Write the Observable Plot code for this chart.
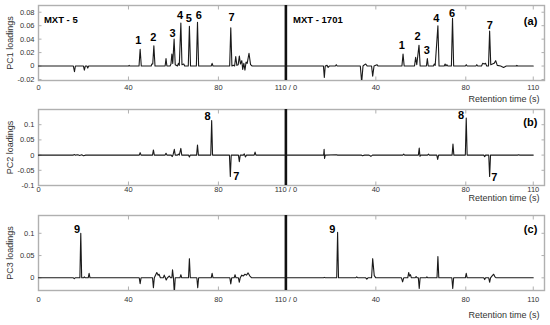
<!DOCTYPE html>
<html><head><meta charset="utf-8">
<script src="https://cdn.jsdelivr.net/npm/d3@7"></script>
<script src="https://cdn.jsdelivr.net/npm/@observablehq/plot@0.6"></script>
<style>
body{margin:0;background:#fff;}
#chart{position:relative;width:550px;height:325px;overflow:hidden;background:#fff;}
#chart svg{position:absolute;left:0;}
</style></head><body><div id="chart"></div>
<script>
// ---- shared axis ----
const xTicks = [0, 40, 80, 110, 150, 190, 220];
const xTickLabels = ["0", "40", "80", "110 / 0", "40", "80", "110"];
const columnNames = ["MXT - 5", "MXT - 1701"];
const columnOffset = [0, 110];        // start of each column on the shared retention axis
const columnSplit = [110];

// ---- PC1 loadings: [retention time (s), loading] ----
const pc1Mxt5 = [[0,0],[15.5,0],[16,-0.0085],[16.4,0],[20,0],[20.4,-0.006],[20.8,0],[21.5,0],[21.9,-0.003],[22.3,0],
 [40,0],[40.3,0.001],[40.6,0],[44.7,0],[45.2,0.025],[45.7,0],[50.1,0],[50.4,0.003],[50.8,0.003],[51.3,0.030],[51.8,0],
 [56.3,0],[56.7,0.011],[57.1,0],[58.5,0],[58.9,0.003],[59.3,0.018],[59.7,0.004],[60.3,0.040],[60.8,0.002],[61.8,0],
 [62.2,0.004],[62.6,0.001],[63.3,0.064],[63.8,0.002],[64.6,0.003],[65,0],[66.6,0],[67.1,0.059],[67.6,0],
 [70.2,0],[70.7,0.065],[71.2,0],[76.8,0],[77.2,0.004],[77.6,0],[85,0],[85.5,0.057],[86,0],[86.6,0.001],[87.2,0],
 [87.7,0.014],[88.2,0.001],[88.8,0.002],[89.3,0.015],[89.8,0.003],[90.4,0.008],[90.8,-0.005],[91.3,0.004],[91.8,-0.006],
 [92.3,0.006],[92.8,0.004],[93.6,0.019],[94.3,0.002],[95,0],[110,0]];
const pc1Mxt1701 = [[0,0],[16.7,0],[17.1,-0.017],[17.5,0],[18.3,0.001],[18.8,-0.002],[19.3,0],[22,0],[22.4,0.002],[22.8,0],
 [33.1,0],[33.7,-0.024],[34.3,0],[35,0.002],[35.5,0.003],[36.2,0],[38.1,0],[38.6,-0.015],[39.2,0],[40.5,0.002],[41,0],
 [51.6,0],[52.1,0.018],[52.6,0],[57.2,0],[57.7,0.013],[58.2,0.002],[59.2,0.031],[59.7,0],[62.5,0],[62.9,0.011],[63.3,0],
 [65.6,0],[66,0.003],[66.4,0.001],[67.6,0.060],[68.1,0],[70.4,0],[70.8,0.003],[71.2,0],[71.6,0.002],[72,0],
 [73.6,0],[74.1,0.071],[74.6,0],[79.8,0],[80.2,0.002],[80.6,0],[84.5,0],[84.9,0.002],[85.3,0],[87,0],[87.5,0.004],
 [88.2,0.003],[88.8,0.004],[89.3,0],[90.1,0],[90.6,0.052],[91.1,0.002],[92.6,0.004],[93.3,0.008],[94,0.001],[95.5,0],
 [96.8,-0.002],[98,0],[102.3,0],[102.7,0.001],[103.1,0],[110,0]];

// ---- PC2 loadings ----
const pc2Mxt5 = [[0,0],[15.5,0],[15.9,0.002],[16.3,0],[17.5,0.001],[18.3,-0.001],[19.2,0.001],[20,-0.002],[21,0],
 [44.8,0],[45.2,0.008],[45.6,0],[50.7,0],[51.1,0.017],[51.5,0],[56.3,0],[56.7,0.006],[57.1,0],
 [59.1,0],[59.4,-0.005],[59.8,0],[60.4,0.019],[60.8,0],[61.8,0],[62.2,0.003],[62.6,0],[63.3,0.022],[63.7,0],
 [66.7,0],[67.1,-0.006],[67.5,0],[70.3,0],[70.7,0.033],[71.1,0],[76.6,0],[77,0.114],[77.4,0],
 [84.9,0],[85.3,-0.070],[85.7,0],[88.9,0],[89.3,-0.022],[89.7,0],[91.1,0],[91.5,0.004],[92,-0.006],[92.5,0],
 [95.9,0],[96.3,0.010],[96.7,0],[110,0]];
const pc2Mxt1701 = [[0,0],[16.8,0],[17.0,0.019],[17.2,-0.011],[17.5,0],[22.5,0.001],[23,0],[33.5,0],[34,-0.002],[35,0],
 [37,0],[37.8,-0.004],[38.5,0],[52,0],[52.4,0.003],[52.8,0],[58.9,0],[59.3,0.023],[59.6,-0.004],[60,0],
 [63,0],[63.4,0.003],[63.8,0],[67.1,0],[67.5,-0.014],[67.9,0],[73.9,0],[74.3,0.036],[74.7,0],
 [79.8,0],[80.2,0.122],[80.6,0],[88,0],[88.4,-0.005],[88.8,0],[90.2,0],[90.6,-0.070],[91,0],
 [103,0],[103.5,0.001],[104,0],[110,0]];

// ---- PC3 loadings ----
const pc3Mxt5 = [[0,0],[15.5,0],[15.9,-0.002],[16.3,0],[18.4,0],[18.8,0.100],[19.2,0],[20,0],[20.4,0.002],[20.8,0],
 [22.1,0],[22.5,0.010],[22.9,0],[44.8,0],[45.2,-0.013],[45.6,0],[50.7,0],[51.1,-0.022],[51.5,0],[52.6,0.012],
 [53.2,0.006],[53.6,0.008],[54.2,0],[55.5,0],[55.9,0.006],[56.4,0],[56.8,-0.005],[57.3,0],[58.2,0.004],[58.7,0],
 [59.3,0],[59.6,0.018],[60,0],[60.4,-0.035],[60.8,0],[62.9,0],[63.3,0.007],[63.7,0],[66.7,0],[67.1,0.043],[67.5,0],
 [70.4,0],[70.8,-0.022],[71.2,0],[76.8,0],[77.2,0.010],[77.6,0],[85.1,0],[85.5,-0.014],[85.9,0],[87,0],[87.4,0.007],
 [87.8,0],[88.9,0],[89.3,-0.010],[89.7,0],[90.4,0.006],[91,0.004],[91.8,0.008],[92.5,0.006],[93.2,0.011],[94,0.004],
 [94.8,0],[110,0]];
const pc3Mxt1701 = [[0,0],[16.7,0],[17.1,0.001],[17.5,0],[22.6,0],[23,0.102],[23.4,0],[31,0],[31.5,0.002],[32,0],
 [35.5,0],[36,-0.003],[36.5,0],[38.1,0],[38.6,0.043],[39.3,0.005],[40,0],[51.4,0],[51.9,-0.009],[52.4,0],
 [54.2,0],[54.6,0.012],[55,0.004],[55.4,0.007],[55.8,0],[57.5,0],[57.9,0.003],[58.3,0],[58.9,0],[59.3,-0.024],[59.7,0],
 [62.3,0],[62.7,0.002],[63.1,0],[67.2,0],[67.6,0.048],[68,0],[73.8,0],[74.2,-0.024],[74.6,0],[79.8,0],[80.2,0.010],
 [80.6,0],[88,0],[88.4,-0.004],[88.8,0],[90.2,0],[90.6,-0.010],[91,0],[91.8,0.005],[92.4,0.008],[93,0.002],[93.5,0],[110,0]];

// ---- peak labels (shared axis x, loading y) ----
const pc1PeakText = ["1","2","3","4","5","6","7","1","2","3","4","6","7"];
const pc1PeakX = [44.4,51.1,59.6,63,66.8,71.3,85.9,161.6,168.6,172.7,176.9,183.9,200.7];
const pc1PeakY = [0.0375,0.042,0.049,0.0745,0.071,0.0745,0.072,0.030,0.044,0.0237,0.0705,0.0785,0.061];
const pc2PeakText = ["8","7","8","7"];
const pc2PeakX = [75.2,88,187.9,202.7];
const pc2PeakY = [0.126,-0.071,0.131,-0.072];
const pc3PeakText = ["9","9"];
const pc3PeakX = [17.2,130.7];
const pc3PeakY = [0.109,0.108];

// ---- y axes ----
const pc1YTicks = [-0.02,0,0.02,0.04,0.06,0.08];
const pc1YLabels = ["-0.02","0","0.02","0.04","0.06","0.08"];
const pc2YTicks = [-0.1,-0.05,0,0.05,0.1];
const pc2YLabels = ["-0.1","-0.05","0","0.05","0.1"];
const pc3YTicks = [0,0.05,0.1];
const pc3YLabels = ["0","0.05","0.1"];

const panelTags = ["(a)","(b)","(c)"];
const yTitles = ["PC1 loadings","PC2 loadings","PC3 loadings"];

function toRows(series) {
  const rows = [];
  series.forEach((pts, c) => pts.forEach(([t, v]) => rows.push({x: t + columnOffset[c], y: v, col: c})));
  return rows;
}
function toLabels(text, xs, ys) { return text.map((t, i) => ({text: t, x: xs[i], y: ys[i]})); }

const panels = [
  {series: [pc1Mxt5, pc1Mxt1701], yDomain: [-0.0215, 0.09], yTicks: pc1YTicks, yLabels: pc1YLabels,
   peaks: toLabels(pc1PeakText, pc1PeakX, pc1PeakY), tagY: 0.0656, nameY: 0.069, showNames: true,
   top: 0, height: 110, mb: 30, tickPad: 4, retDy: 21},
  {series: [pc2Mxt5, pc2Mxt1701], yDomain: [-0.1, 0.15], yTicks: pc2YTicks, yLabels: pc2YLabels,
   peaks: toLabels(pc2PeakText, pc2PeakX, pc2PeakY), tagY: 0.107, showNames: false,
   top: 104, height: 110, mb: 29, tickPad: 1.5, retDy: 15.5},
  {series: [pc3Mxt5, pc3Mxt1701], yDomain: [-0.0285, 0.14], yTicks: pc3YTicks, yLabels: pc3YLabels,
   peaks: toLabels(pc3PeakText, pc3PeakX, pc3PeakY), tagY: 0.109, showNames: false,
   top: 210, height: 115, mb: 35, tickPad: 6, retDy: 27}
];

const gray = "#b0b0b0";
const chart = document.getElementById("chart");
panels.forEach((p, i) => {
  const marks = [
    Plot.frame({stroke: gray, strokeWidth: 1.4}),
    Plot.axisX(xTicks, {anchor: "bottom", tickSize: 0, tickPadding: p.tickPad, label: null,
      tickFormat: d => xTickLabels[xTicks.indexOf(d)], fill: "#333", fontSize: 7.5}),
    Plot.axisX(xTicks, {anchor: "bottom", tickSize: -3.5, fill: "none", stroke: gray, label: null}),
    Plot.axisX(xTicks, {anchor: "top", tickSize: -3.5, fill: "none", stroke: gray, label: null}),
    Plot.axisY(p.yTicks, {anchor: "left", tickSize: 0, tickPadding: 4, label: null,
      tickFormat: d => p.yLabels[p.yTicks.indexOf(d)], fill: "#333", fontSize: 7.5}),
    Plot.axisY(p.yTicks, {anchor: "left", tickSize: -3.5, fill: "none", stroke: gray, label: null}),
    Plot.axisY(p.yTicks, {anchor: "right", tickSize: -3.5, fill: "none", stroke: gray, label: null}),
    Plot.ruleX(columnSplit, {stroke: "#111", strokeWidth: 2.6}),
    Plot.line(toRows(p.series), {x: "x", y: "y", z: "col", stroke: "#1a1a1a", strokeWidth: 1.1, clip: true}),
    Plot.text(p.peaks, {x: "x", y: "y", text: "text", fontWeight: "bold", fontSize: 11, fill: "#000"}),
    Plot.text([panelTags[i]], {x: [221.8], y: [p.tagY], textAnchor: "end", fontWeight: "bold", fontSize: 11, fill: "#000"}),
    Plot.text(["Retention time (s)"], {frameAnchor: "bottom-right", dx: -5, dy: p.retDy, textAnchor: "end", fontSize: 9, fill: "#333"}),
    Plot.text([yTitles[i]], {frameAnchor: "left", textAnchor: "middle", rotate: -90, dx: -28, fontSize: 9, fill: "#333"})
  ];
  if (p.showNames) {
    marks.push(Plot.text(columnNames, {x: [2.4, 113.2], y: [p.nameY, p.nameY], textAnchor: "start",
      fontWeight: "bold", fontSize: 9.5, fill: "#000"}));
  }
  const svg = Plot.plot({
    width: 550, height: p.height,
    marginLeft: 38, marginRight: 6, marginTop: 5, marginBottom: p.mb,
    style: {fontFamily: "'Liberation Sans', Arial, sans-serif", background: "none", overflow: "visible"},
    x: {domain: [0, 225], axis: null},
    y: {domain: p.yDomain, axis: null},
    marks
  });
  svg.style.top = p.top + "px";
  chart.appendChild(svg);
});
</script></body></html>
